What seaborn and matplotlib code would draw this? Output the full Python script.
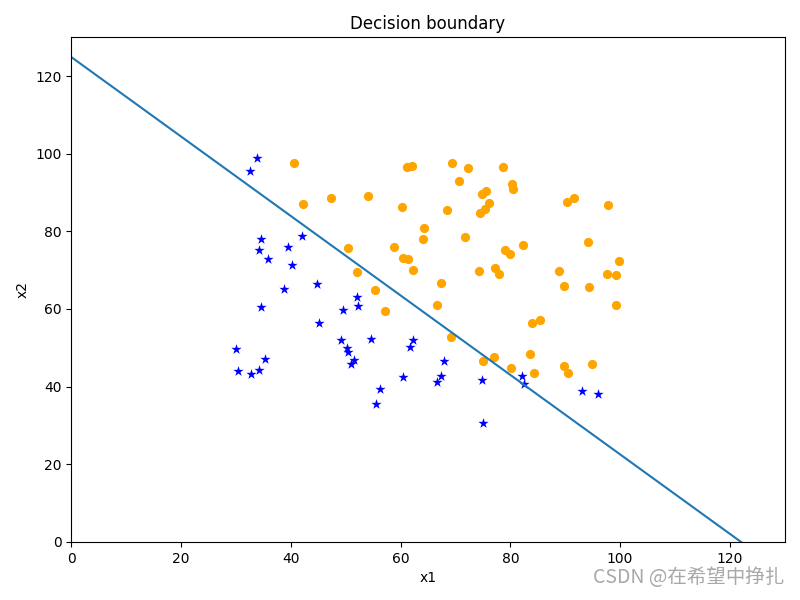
import numpy as np
import matplotlib
matplotlib.use('Agg')
import matplotlib.pyplot as plt
import seaborn as sns

# 未录取 (y=0)
neg_x1 = [34.6, 30.3, 35.8, 45.1, 95.9, 75.0, 39.5, 67.9, 67.4, 50.5, 34.2, 93.1,
          61.8, 38.8, 52.1, 40.2, 54.6, 33.9, 74.8, 34.2, 51.5, 82.4, 51.0, 62.2,
          34.5, 50.3, 49.6, 32.6, 35.3, 56.3, 30.1, 44.7, 66.6, 49.1, 32.7, 60.5,
          82.2, 42.1, 52.3, 55.5]
neg_x2 = [78.0, 43.9, 72.9, 56.3, 38.2, 30.6, 76.0, 46.7, 42.8, 48.9, 44.2, 38.8,
          50.3, 65.0, 63.1, 71.2, 52.2, 98.9, 41.6, 75.2, 46.9, 40.6, 45.8, 52.1,
          60.4, 49.8, 59.8, 95.6, 47.0, 39.3, 49.6, 66.5, 41.1, 51.9, 43.3, 42.5,
          42.7, 78.8, 60.8, 35.6]

# 录取 (y=1)
pos_x1 = [60.2, 79.0, 61.1, 75.0, 76.1, 84.4, 82.3, 69.4, 54.0, 69.1, 70.7, 77.0,
          89.7, 77.9, 62.3, 80.2, 61.4, 85.4, 52.0, 64.2, 83.9, 94.4, 77.2, 97.8,
          62.1, 91.6, 79.9, 99.3, 90.5, 97.6, 74.2, 71.8, 75.4, 40.5, 80.3, 66.7,
          64.0, 72.3, 60.5, 58.8, 99.8, 47.3, 50.5, 88.9, 94.8, 67.3, 57.2, 80.4,
          68.5, 75.5, 78.6, 94.1, 90.4, 74.5, 89.8, 83.5, 42.3, 99.3, 55.3, 74.8]
pos_x2 = [86.3, 75.3, 96.5, 46.6, 87.4, 43.5, 76.5, 97.7, 89.2, 52.7, 92.9, 47.6,
          65.8, 69.0, 70.0, 44.8, 72.8, 57.1, 69.4, 80.9, 56.3, 65.6, 70.5, 86.7,
          96.8, 88.7, 74.2, 61.0, 43.4, 68.9, 69.8, 78.5, 85.8, 97.5, 92.1, 61.0,
          78.0, 96.2, 73.1, 75.9, 72.4, 88.5, 75.8, 69.8, 45.7, 66.6, 59.5, 91.0,
          85.6, 90.4, 96.6, 77.2, 87.5, 84.8, 45.4, 48.4, 87.1, 68.8, 64.9, 89.5]

# 决策边界
boundary_x1 = [0, 130]
boundary_x2 = [124.9, -8.2]

plt.rcParams['font.family'] = ['DejaVu Sans', 'Noto Sans CJK SC']

fig, ax = plt.subplots(figsize=(8, 6), dpi=100)
sns.scatterplot(x=pos_x1, y=pos_x2, color='orange', marker='o', s=44,
                linewidth=0, ax=ax)
sns.scatterplot(x=neg_x1, y=neg_x2, color='blue', marker='*', s=60,
                linewidth=0, ax=ax)
sns.lineplot(x=boundary_x1, y=boundary_x2, color='#1f77b4', ax=ax)

ax.set_xlim(0, 130)
ax.set_ylim(0, 130)
ax.set_title('Decision boundary')
ax.set_xlabel('x1')
ax.set_ylabel('x2')

fig.text(0.98, 0.02, 'CSDN @在希望中挣扎', ha='right', va='bottom',
         fontsize=14, color='#a8a8a8',
         family=['Noto Sans CJK SC', 'DejaVu Sans'])

plt.subplots_adjust(left=0.089, right=0.981, top=0.938, bottom=0.097)
plt.savefig('out.png')
